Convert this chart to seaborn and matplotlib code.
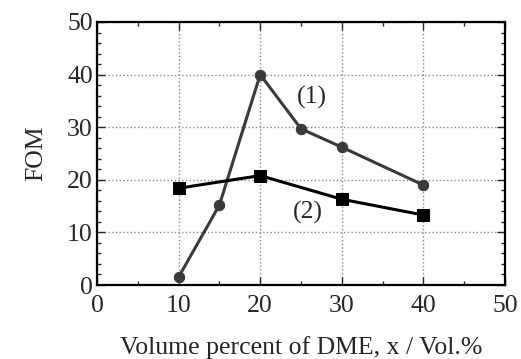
import numpy as np
import pandas as pd
import matplotlib
matplotlib.use("Agg")
import matplotlib.pyplot as plt
from matplotlib.ticker import MultipleLocator
import seaborn as sns

x1 = [10, 15, 20, 25, 30, 40]
fom1 = [1.5, 15.2, 40.0, 29.7, 26.2, 19.0]
x2 = [10, 20, 30, 40]
fom2 = [18.4, 20.8, 16.3, 13.3]
labels = ["(1)", "(2)"]

sns.set_style("ticks")
plt.rcParams['font.family'] = ['Liberation Serif', 'DejaVu Serif']

fig = plt.figure(figsize=(5.21, 3.59), dpi=100)
ax = fig.add_axes([97/521, 1-285/359, (505-97)/521, (285-22)/359])

df1 = pd.DataFrame({"x": x1, "FOM": fom1})
df2 = pd.DataFrame({"x": x2, "FOM": fom2})
sns.lineplot(data=df1, x="x", y="FOM", ax=ax, color="#3a3a3a", lw=2.2,
             marker="o", markersize=7.5, markeredgecolor="#3a3a3a")
sns.lineplot(data=df2, x="x", y="FOM", ax=ax, color="black", lw=2.2,
             marker="s", markersize=8.5, markeredgecolor="black")

ax.text(26.3, 35.7, labels[0], fontsize=18.5, ha="center", va="center")
ax.text(25.9, 13.7, labels[1], fontsize=18.5, ha="center", va="center")

ax.set_xlim(0, 50)
ax.set_ylim(0, 50)
ax.xaxis.set_major_locator(MultipleLocator(10))
ax.xaxis.set_minor_locator(MultipleLocator(5))
ax.yaxis.set_major_locator(MultipleLocator(10))
ax.yaxis.set_minor_locator(MultipleLocator(2))
ax.grid(True, which="major", linestyle=":", color="#888888", lw=1)
ax.tick_params(which="both", direction="in", top=True, right=True, labelsize=18.5)
ax.tick_params(axis="x", pad=7)
ax.tick_params(axis="y", pad=3)
ax.tick_params(which="major", length=6, width=1)
ax.tick_params(which="minor", length=3, width=1)
for s in ax.spines.values():
    s.set_linewidth(1.6)
    s.set_color("black")
ax.set_xlabel("Volume percent of DME, x / Vol.%", fontsize=18.5, labelpad=14)
ax.set_ylabel("FOM", fontsize=18.5, labelpad=14)

fig.savefig("out.png", dpi=100)
